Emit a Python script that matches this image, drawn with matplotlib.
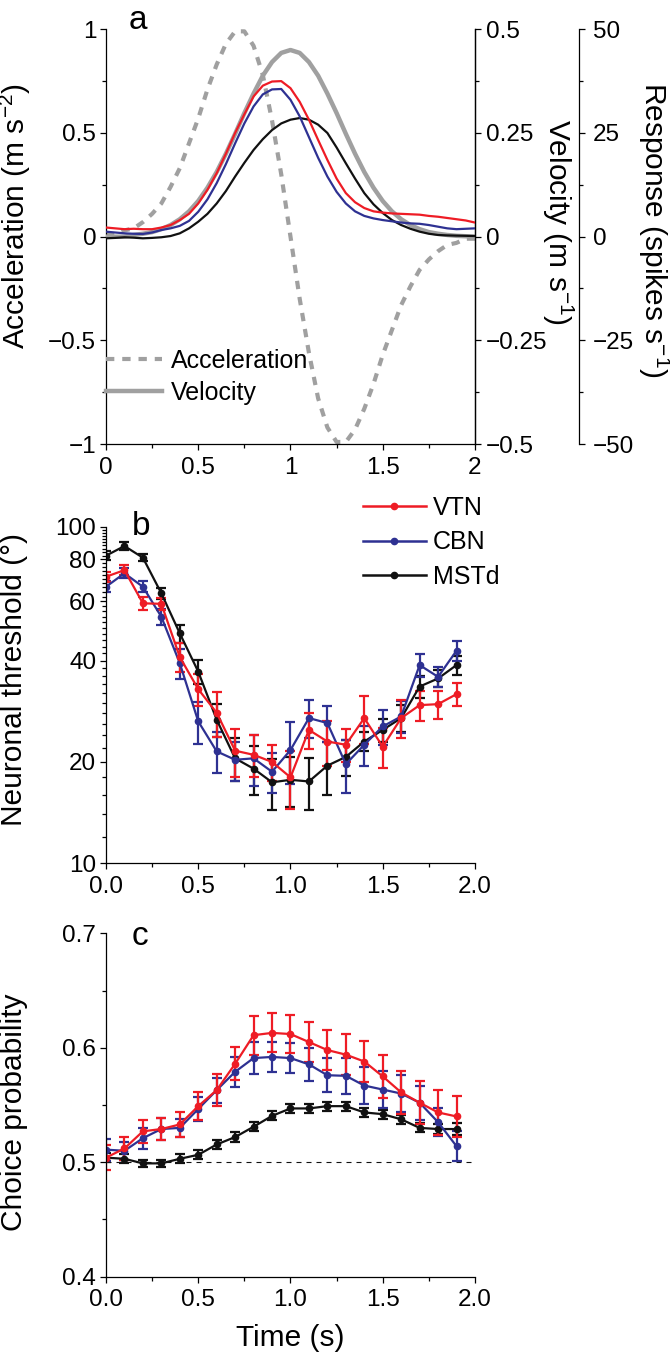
import numpy as np
import matplotlib
matplotlib.use("Agg")
from matplotlib import pyplot as plt
from matplotlib.ticker import FixedLocator, FixedFormatter, NullFormatter
from matplotlib.lines import Line2D

plt.rcParams['font.family'] = ['Liberation Sans', 'DejaVu Sans']
plt.rcParams['mathtext.fontset'] = 'custom'
plt.rcParams['mathtext.rm'] = 'Liberation Sans'
plt.rcParams['mathtext.it'] = 'Liberation Sans:italic'
plt.rcParams['axes.linewidth'] = 0.9
plt.rcParams['xtick.major.size'] = 4
plt.rcParams['ytick.major.size'] = 4
plt.rcParams['xtick.minor.size'] = 3
plt.rcParams['ytick.minor.size'] = 3
plt.rcParams['xtick.major.width'] = 0.9
plt.rcParams['ytick.major.width'] = 0.9
plt.rcParams['xtick.minor.width'] = 0.9
plt.rcParams['ytick.minor.width'] = 0.9

RED = '#ee1c25'
BLUE = '#2e3192'
BLACK = '#111111'
GRAY = '#a0a0a0'

# ==============================
# a) stimulus profile + PSTH
# ==============================
time_a = [0.0, 0.05, 0.1, 0.15, 0.2, 0.25, 0.3, 0.35, 0.4, 0.45, 0.5, 0.55, 0.6, 0.65,
          0.7, 0.75, 0.8, 0.85, 0.9, 0.95, 1.0, 1.05, 1.1, 1.15, 1.2, 1.25, 1.3, 1.35,
          1.4, 1.45, 1.5, 1.55, 1.6, 1.65, 1.7, 1.75, 1.8, 1.85, 1.9, 1.95, 2.0]
accel = [0.01, 0.01, 0.03, 0.04, 0.07, 0.11, 0.16, 0.24, 0.33, 0.45, 0.57, 0.71, 0.83, 0.93,
         0.99, 0.99, 0.92, 0.78, 0.56, 0.30, 0.0, -0.30, -0.56, -0.78, -0.92, -0.99, -0.99,
         -0.93, -0.83, -0.71, -0.57, -0.45, -0.33, -0.24, -0.16, -0.11, -0.07, -0.04, -0.03,
         -0.01, -0.01]
velocity = [0.0, 0.0, 0.0, 0.004, 0.007, 0.011, 0.018, 0.028, 0.042, 0.061, 0.086, 0.118,
            0.156, 0.200, 0.248, 0.298, 0.345, 0.388, 0.421, 0.443, 0.450, 0.443, 0.421,
            0.388, 0.345, 0.298, 0.248, 0.200, 0.156, 0.118, 0.086, 0.061, 0.042, 0.028,
            0.018, 0.011, 0.007, 0.004, 0.002, 0.001, 0.0]
psth_vtn = [2.2, 2.0, 1.8, 1.9, 1.8, 1.8, 2.2, 2.8, 4.0, 5.5, 8.0, 11.3, 15.3, 20.0, 25.0,
            29.5, 33.8, 36.4, 37.4, 37.5, 35.8, 32.5, 28.2, 23.3, 18.5, 14.0, 10.5, 8.3, 6.9,
            6.1, 5.8, 5.6, 5.5, 5.4, 5.3, 5.0, 4.8, 4.5, 4.2, 3.9, 3.4]
psth_cbn = [1.2, 1.0, 0.8, 0.7, 0.65, 1.0, 1.6, 2.0, 2.6, 3.8, 6.0, 9.0, 12.9, 17.5, 22.5,
            27.3, 31.4, 34.3, 35.5, 35.6, 33.0, 29.0, 24.0, 19.0, 14.5, 10.8, 8.0, 6.1, 5.0,
            4.4, 4.0, 3.7, 3.4, 3.2, 3.1, 2.8, 2.4, 2.0, 1.8, 1.9, 2.0]
psth_mstd = [-0.4, -0.3, -0.15, -0.25, -0.4, -0.3, -0.15, 0.15, 0.8, 2.0, 3.6, 5.5, 8.0,
             11.0, 14.5, 17.8, 20.9, 23.5, 25.7, 27.3, 28.2, 28.6, 28.2, 27.0, 25.0, 21.5,
             17.7, 14.0, 10.5, 7.8, 5.7, 4.0, 2.8, 1.9, 1.2, 0.7, 0.4, 0.3, 0.25, 0.2, 0.15]

# ==============================
# b) neuronal threshold, c) choice probability
# ==============================
time_bins = [0.0, 0.1, 0.2, 0.3, 0.4, 0.5, 0.6, 0.7, 0.8, 0.9,
             1.0, 1.1, 1.2, 1.3, 1.4, 1.5, 1.6, 1.7, 1.8, 1.9]

thr_vtn = [71.0, 74.3, 59.2, 59.0, 41.0, 32.9, 28.0, 21.6, 21.0, 20.0,
           18.0, 24.9, 23.0, 22.5, 27.0, 22.2, 27.0, 29.5, 29.7, 31.8]
thr_vtn_err = [2.5, 2.5, 2.5, 2.5, 4.0, 3.5, 4.3, 3.5, 3.0, 2.5,
               3.5, 3.0, 3.5, 2.5, 4.4, 3.0, 3.5, 3.0, 2.8, 2.5]
thr_cbn = [66.3, 72.7, 66.3, 54.0, 39.3, 26.4, 21.5, 20.3, 20.5, 18.7,
           21.7, 27.0, 26.1, 19.7, 22.5, 25.5, 27.3, 38.8, 35.8, 42.8]
thr_cbn_err = [2.5, 2.5, 2.5, 3.0, 4.0, 3.8, 3.0, 2.7, 3.5, 2.5,
               4.5, 3.5, 3.2, 3.5, 3.0, 3.0, 3.0, 3.0, 2.5, 3.0]
thr_mstd = [82.0, 87.6, 80.9, 63.4, 48.2, 37.1, 26.7, 20.5, 19.1, 17.4,
            17.7, 17.5, 19.5, 20.7, 23.0, 24.9, 27.0, 33.5, 35.4, 38.8]
thr_mstd_err = [2.5, 2.5, 2.0, 2.5, 3.0, 3.0, 3.0, 3.0, 3.2, 3.0,
                3.0, 3.1, 3.5, 2.5, 1.5, 2.0, 2.5, 2.5, 2.0, 2.5]

cp_vtn = [0.504, 0.512, 0.527, 0.529, 0.533, 0.549, 0.563, 0.586, 0.611, 0.613,
          0.612, 0.605, 0.598, 0.594, 0.588, 0.575, 0.561, 0.552, 0.5435, 0.540]
cp_vtn_err = [0.011, 0.010, 0.010, 0.010, 0.011, 0.012, 0.014, 0.0145, 0.017, 0.017,
              0.017, 0.0175, 0.0175, 0.018, 0.018, 0.019, 0.019, 0.019, 0.020, 0.018]
cp_cbn = [0.511, 0.510, 0.521, 0.529, 0.530, 0.5465, 0.563, 0.579, 0.591, 0.592,
          0.591, 0.5855, 0.576, 0.5755, 0.567, 0.5635, 0.560, 0.552, 0.535, 0.514]
cp_cbn_err = [0.0095, 0.008, 0.0093, 0.0096, 0.008, 0.0104, 0.011, 0.0133, 0.014, 0.013,
              0.013, 0.0143, 0.015, 0.0155, 0.016, 0.016, 0.016, 0.015, 0.012, 0.013]
cp_mstd = [0.504, 0.503, 0.499, 0.499, 0.503, 0.5065, 0.5155, 0.522, 0.531, 0.5405,
           0.547, 0.547, 0.549, 0.549, 0.5435, 0.542, 0.5375, 0.530, 0.529, 0.529]
cp_mstd_err = [0.004, 0.004, 0.003, 0.003, 0.004, 0.004, 0.004, 0.004, 0.004, 0.004,
               0.004, 0.004, 0.004, 0.004, 0.004, 0.004, 0.004, 0.004, 0.004, 0.005]

areas = ['VTN', 'CBN', 'MSTd']
area_colors = [RED, BLUE, BLACK]

TICK_FS = 17.5
LABEL_FS = 21.5

fig = plt.figure(figsize=(6.7, 13.55), dpi=100)
ax_a = fig.add_axes([0.1582, 0.6723, 0.5507, 0.3061])
ax_b = fig.add_axes([0.1582, 0.3629, 0.5507, 0.2484])
ax_c = fig.add_axes([0.1582, 0.0578, 0.5507, 0.2534])

# ---------- panel a ----------
ax_v = ax_a.twinx()
ax_r = ax_a.twinx()

ax_r.plot(time_a, psth_mstd, color=BLACK, lw=1.6, zorder=3)
ax_r.plot(time_a, psth_cbn, color=BLUE, lw=1.6, zorder=3)
ax_r.plot(time_a, psth_vtn, color=RED, lw=1.6, zorder=3)
acc_style = dict(color=GRAY, lw=3.0, ls=(0, (2.0, 1.9)))
ax_a.plot(time_a, accel, clip_on=False, **acc_style)
ax_v.plot(time_a, velocity, color=GRAY, lw=3.2)

ax_a.set_xlim(0, 2)
ax_a.set_ylim(-1, 1)
ax_v.set_ylim(-0.5, 0.5)
ax_r.set_ylim(-50, 50)

ax_a.xaxis.set_major_locator(FixedLocator([0, 0.5, 1, 1.5, 2]))
ax_a.xaxis.set_major_formatter(FixedFormatter(['0', '0.5', '1', '1.5', '2']))
ax_a.xaxis.set_minor_locator(FixedLocator([0.25, 0.75, 1.25, 1.75]))
ax_a.yaxis.set_major_locator(FixedLocator([-1, -0.5, 0, 0.5, 1]))
ax_a.yaxis.set_major_formatter(FixedFormatter(['\u22121', '\u22120.5', '0', '0.5', '1']))
ax_a.yaxis.set_minor_locator(FixedLocator([-0.75, -0.25, 0.25, 0.75]))
ax_v.yaxis.set_major_locator(FixedLocator([-0.5, -0.25, 0, 0.25, 0.5]))
ax_v.yaxis.set_major_formatter(FixedFormatter(['\u22120.5', '\u22120.25', '0', '0.25', '0.5']))
ax_v.yaxis.set_minor_locator(FixedLocator([-0.375, -0.125, 0.125, 0.375]))
ax_r.yaxis.set_major_locator(FixedLocator([-50, -25, 0, 25, 50]))
ax_r.yaxis.set_major_formatter(FixedFormatter(['\u221250', '\u221225', '0', '25', '50']))
ax_r.yaxis.set_minor_locator(FixedLocator([-37.5, -12.5, 12.5, 37.5]))

ax_a.spines['top'].set_visible(False)
for side in ['top', 'left', 'bottom']:
    ax_v.spines[side].set_visible(False)
    ax_r.spines[side].set_visible(False)
ax_r.spines['right'].set_position(('axes', 1.282))

for ax in [ax_a, ax_v, ax_r]:
    ax.tick_params(which='both', direction='out', labelsize=TICK_FS)
ax_a.tick_params(axis='y', pad=3)
ax_a.tick_params(axis='x', pad=5)
ax_v.tick_params(axis='y', pad=4)
ax_r.tick_params(axis='y', pad=6)

ax_a.set_ylabel('Acceleration (m s$^{-2}$)', fontsize=LABEL_FS)
ax_a.yaxis.set_label_coords(-0.198, 0.55)
ax_v.set_ylabel('Velocity (m s$^{-1}$)', fontsize=LABEL_FS, rotation=270, va='center')
ax_v.yaxis.set_label_coords(1.225, 0.535)
ax_r.set_ylabel('Response (spikes s$^{-1}$)', fontsize=LABEL_FS, rotation=270, va='center')
ax_r.yaxis.set_label_coords(1.485, 0.516)

h_acc = Line2D([], [], **acc_style)
h_vel = Line2D([], [], color=GRAY, lw=3.2)
ax_a.legend([h_acc, h_vel], ['Acceleration', 'Velocity'], loc='lower left',
            bbox_to_anchor=(0.0, 0.095), frameon=False, fontsize=18, handlelength=2.25,
            handletextpad=0.35, borderpad=0, borderaxespad=0, labelspacing=0.3)
ax_a.text(0.06, 1.02, 'a', transform=ax_a.transAxes, fontsize=24, ha='left', va='center')

# ---------- panel b ----------
err_kw = dict(marker='o', ms=4.5, lw=1.6, elinewidth=1.6, capsize=3.6, capthick=1.6)
thr_series = [(thr_mstd, thr_mstd_err), (thr_cbn, thr_cbn_err), (thr_vtn, thr_vtn_err)]
for (vals, errs), col in zip(thr_series, [BLACK, BLUE, RED]):
    ax_b.errorbar(time_bins, vals, yerr=errs, color=col, **err_kw)

ax_b.set_yscale('log')
ax_b.set_xlim(0, 2)
ax_b.set_ylim(10, 100)
ax_b.yaxis.set_major_locator(FixedLocator([10, 20, 40, 60, 80, 100]))
ax_b.yaxis.set_major_formatter(FixedFormatter(['10', '20', '40', '60', '80', '100']))
ax_b.yaxis.set_minor_locator(FixedLocator([v for v in range(12, 100, 2)
                                           if v not in (20, 40, 60, 80)]))
ax_b.yaxis.set_minor_formatter(NullFormatter())
ax_b.set_ylabel('Neuronal threshold (\u00b0)', fontsize=LABEL_FS)
ax_b.yaxis.set_label_coords(-0.212, 0.545)
ax_b.text(0.07, 1.0, 'b', transform=ax_b.transAxes, fontsize=24, ha='left', va='center')

leg_handles = [Line2D([], [], color=c, marker='o', ms=4.5, lw=1.8) for c in area_colors]
ax_b.legend(leg_handles, areas, loc='upper left', bbox_to_anchor=(0.542, 0.634),
            bbox_transform=fig.transFigure, frameon=False, fontsize=18, numpoints=1,
            handlelength=2.5, handletextpad=0.3, borderpad=0, borderaxespad=0,
            labelspacing=0.42)

# ---------- panel c ----------
cp_series = [(cp_mstd, cp_mstd_err), (cp_cbn, cp_cbn_err), (cp_vtn, cp_vtn_err)]
for (vals, errs), col in zip(cp_series, [BLACK, BLUE, RED]):
    ax_c.errorbar(time_bins, vals, yerr=errs, color=col, **err_kw)
ax_c.axhline(0.5, color=BLACK, lw=0.8, ls=(0, (4.5, 4.5)), zorder=0)

ax_c.set_xlim(0, 2)
ax_c.set_ylim(0.4, 0.7)
ax_c.yaxis.set_major_locator(FixedLocator([0.4, 0.5, 0.6, 0.7]))
ax_c.yaxis.set_major_formatter(FixedFormatter(['0.4', '0.5', '0.6', '0.7']))
ax_c.yaxis.set_minor_locator(FixedLocator([0.45, 0.55, 0.65]))
ax_c.set_ylabel('Choice probability', fontsize=LABEL_FS)
ax_c.yaxis.set_label_coords(-0.212, 0.478)
ax_c.set_xlabel('Time (s)', fontsize=LABEL_FS, labelpad=9)
ax_c.text(0.07, 0.99, 'c', transform=ax_c.transAxes, fontsize=24, ha='left', va='center')

for ax in [ax_b, ax_c]:
    ax.spines['top'].set_visible(False)
    ax.spines['right'].set_visible(False)
    ax.xaxis.set_major_locator(FixedLocator([0.0, 0.5, 1.0, 1.5, 2.0]))
    ax.xaxis.set_major_formatter(FixedFormatter(['0.0', '0.5', '1.0', '1.5', '2.0']))
    ax.xaxis.set_minor_locator(FixedLocator([0.25, 0.75, 1.25, 1.75]))
    ax.tick_params(which='both', direction='out', labelsize=TICK_FS)
    ax.tick_params(axis='y', pad=3)
    ax.tick_params(axis='x', pad=5)

fig.savefig('out.png', dpi=100)
